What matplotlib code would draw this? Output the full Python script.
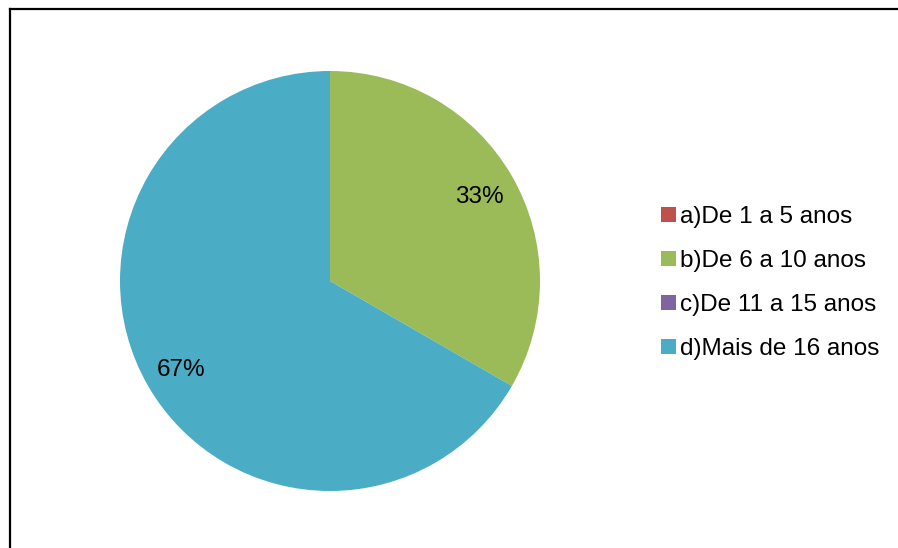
import matplotlib
matplotlib.use("Agg")
import matplotlib.pyplot as plt
from matplotlib.lines import Line2D

plt.rcParams['font.family'] = ['Liberation Sans', 'DejaVu Sans']

categorias = ["a)De 1 a 5 anos", "b)De 6 a 10 anos", "c)De 11 a 15 anos", "d)Mais de 16 anos"]
valores = [0, 1, 0, 2]
cores = ["#C0504D", "#9BBB59", "#8064A2", "#4BACC6"]

W, H = 898, 548
fig = plt.figure(figsize=(W / 100, H / 100), dpi=100)

# moldura (so a parte de cima e a esquerda aparecem)
fig.add_artist(Line2D([10 / W, 10 / W], [0, 1 - 9 / H], color="black", lw=1.6))
fig.add_artist(Line2D([10 / W, 1], [1 - 9 / H, 1 - 9 / H], color="black", lw=1.6))

ax = fig.add_axes([120 / W, 57 / H, 420 / W, 420 / H])


def rotulo(p):
    return "%.0f%%" % p if p > 0 else ""


wedges, textos, autotextos = ax.pie(valores, colors=cores, startangle=90, counterclock=False,
                                    autopct=rotulo, pctdistance=0.82,
                                    textprops={"fontsize": 17.5, "color": "black"},
                                    wedgeprops={"linewidth": 0})
for t in autotextos:
    x, y = t.get_position()
    t.set_position((x, y - 0.012))
ax.set_xlim(-1, 1)
ax.set_ylim(-1, 1)
ax.set_aspect("equal")

fig.legend(wedges, categorias, loc="center left", bbox_to_anchor=(661 / W, 1 - 283 / H),
           frameon=False, fontsize=17.5, handlelength=0.6, handleheight=0.6,
           handletextpad=0.2, labelspacing=0.9, borderpad=0, borderaxespad=0)

fig.savefig("out.png", dpi=100)
